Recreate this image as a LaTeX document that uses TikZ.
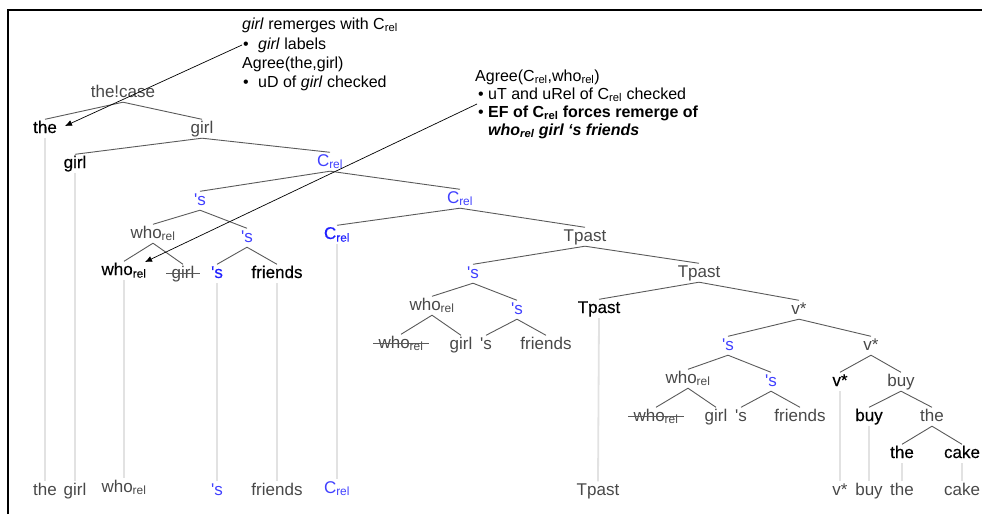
\documentclass[tikz,border=0pt]{standalone}
\usepackage{fontspec}
\setmainfont{Liberation Sans}
\newfontfamily\leaffont[FakeBold=0.3]{Liberation Sans}
\usetikzlibrary{arrows.meta}
\definecolor{tgray}{HTML}{484848}
\definecolor{lgray}{HTML}{E2E2E2}
\definecolor{tblue}{HTML}{4040FF}
\definecolor{lblue}{HTML}{2020FF}
\definecolor{egray}{HTML}{5A5A5A}
\begin{document}
\begin{tikzpicture}[x=1pt,y=-1pt,
  n/.style={inner sep=0pt, inner xsep=1pt, inner ysep=0.5pt, text height=13pt, text depth=4.5pt, anchor=base, font=\fontsize{17}{20}\selectfont, text=tgray},
  lf/.style={n, text=black, font=\fontsize{17}{20}\leaffont},
  bl/.style={n, text=tblue},
  blf/.style={lf, text=lblue},
  brline/.style={draw=egray, line width=0.9pt},
  trline/.style={draw=lgray, line width=1.8pt},
  strk/.style={draw=egray, line width=1pt},
  ann/.style={anchor=base west, inner sep=0pt, font=\fontsize{16}{19}\selectfont},
  arr/.style={draw=black, line width=0.7pt, -{Latex[length=7pt,width=6pt]}}
]
\useasboundingbox (0,0) rectangle (982,514);
\draw[line width=1.5pt] (8,514) -- (8,10) -- (982,10);

% tree nodes
\node[n] (thecase) at (123,97) {the!case};
\node[lf] (the1) at (45,133) {the};
\node[n] (girl1) at (202,133) {girl};
\node[lf] (girl2) at (75,168) {girl};
\node[bl] (crel1) at (330,166) {C\textsubscript{rel}};
\node[bl] (s1) at (200,205) {\textquotesingle s};
\node[bl] (crel2) at (460,203) {C\textsubscript{rel}};
\node[n] (whorel1) at (153,238) {who\textsubscript{rel}};
\node[bl] (s2) at (247,242) {\textquotesingle s};
\node[blf] (crel3) at (337,239) {C\textsubscript{rel}};
\node[n] (tpast1) at (585,241) {Tpast};
\node[lf] (whorel2) at (124,275) {who\textsubscript{rel}};
\node[n] (girl3) at (183,278) {girl};
\node[blf] (s3) at (217,278) {\textquotesingle s};
\node[lf] (friends1) at (277,278) {friends};
\node[bl] (s4) at (473,278) {\textquotesingle s};
\node[n] (tpast2) at (699,277) {Tpast};
\node[n] (whorel3) at (432,310) {who\textsubscript{rel}};
\node[bl] (s5) at (517,314) {\textquotesingle s};
\node[lf] (tpast3) at (599,313) {Tpast};
\node[n] (vstar1) at (799,314) {v*};
\node[n] (whorel4) at (401,348) {who\textsubscript{rel}};
\node[n] (girl4) at (461,349) {girl};
\node[n] (s6) at (486,349) {\textquotesingle s};
\node[n] (friends2) at (546,349) {friends};
\node[bl] (s7) at (728,350) {\textquotesingle s};
\node[n] (vstar2) at (871,350) {v*};
\node[n] (whorel5) at (688,383) {who\textsubscript{rel}};
\node[bl] (s8) at (771,386) {\textquotesingle s};
\node[lf] (vstar3) at (840,386) {v*};
\node[n] (buy1) at (901,386) {buy};
\node[n] (whorel6) at (656,421) {who\textsubscript{rel}};
\node[n] (girl5) at (716,421) {girl};
\node[n] (s9) at (741,421) {\textquotesingle s};
\node[n] (friends3) at (800,421) {friends};
\node[lf] (buy2) at (869,421) {buy};
\node[n] (the2) at (932,421) {the};
\node[lf] (the3) at (902,458) {the};
\node[lf] (cake1) at (962,458) {cake};

% bottom row
\node[n] (bthe) at (45,495) {the};
\node[n] (bgirl) at (75,495) {girl};
\node[n] (bwho) at (124,492) {who\textsubscript{rel}};
\node[bl] (bs) at (217,495) {\textquotesingle s};
\node[n] (bfriends) at (277,495) {friends};
\node[bl] (bcrel) at (337,493) {C\textsubscript{rel}};
\node[n] (btpast) at (598,495) {Tpast};
\node[n] (bv) at (840,495) {v*};
\node[n] (bbuy) at (869,495) {buy};
\node[n] (bthe2) at (902,495) {the};
\node[n] (bcake) at (962,495) {cake};

% branches
\foreach \p/\c in {thecase/the1, thecase/girl1, girl1/girl2, girl1/crel1,
  crel1/s1, crel1/crel2, s1/whorel1, s1/s2, whorel1/whorel2, whorel1/girl3,
  s2/s3, s2/friends1, crel2/crel3, crel2/tpast1, tpast1/s4, tpast1/tpast2,
  s4/whorel3, s4/s5, whorel3/whorel4, whorel3/girl4, s5/s6, s5/friends2,
  tpast2/tpast3, tpast2/vstar1, vstar1/s7, vstar1/vstar2, s7/whorel5, s7/s8,
  whorel5/whorel6, whorel5/girl5, s8/s9, s8/friends3, vstar2/vstar3, vstar2/buy1,
  buy1/buy2, buy1/the2, the2/the3, the2/cake1}
  \draw[brline] (\p.south) -- (\c.north);

% traces
\foreach \a/\b in {the1/bthe, girl2/bgirl, whorel2/bwho, s3/bs, friends1/bfriends,
  crel3/bcrel, tpast3/btpast, vstar3/bv, buy2/bbuy, the3/bthe2, cake1/bcake}
  \draw[trline] (\a.south) -- (\b.north);

% strike-outs
\foreach \s in {girl3, whorel4, whorel6}
  \draw[strk, shorten <=-4pt, shorten >=-4pt] ([yshift=5pt]\s.base west) -- ([yshift=5pt]\s.base east);

% annotations
\node[ann] (a1l1) at (242,29) {\textit{girl} remerges with C\textsubscript{rel}};
\node[ann] (a1b1) at (243,49) {•};
\node[ann] (a1l2) at (258,49) {\textit{girl} labels};
\node[ann] (a1l3) at (242,68) {Agree(the,girl)};
\node[ann] (a1b2) at (243,87) {•};
\node[ann] (a1l4) at (258,87) {uD of \textit{girl} checked};

\node[ann] (a2l1) at (475,81) {Agree(C\textsubscript{rel},who\textsubscript{rel})};
\node[ann] (a2b1) at (478,99) {•};
\node[ann] (a2l2) at (488,99) {uT and uRel of C\textsubscript{rel} checked};
\node[ann] (a2b2) at (478,117) {•};
\node[ann] (a2l3) at (488,117) {\textbf{EF of C\textsubscript{rel} forces remerge of}};
\node[ann] (a2l4) at (488,135) {\textbf{\textit{who\textsubscript{rel} girl ‘s friends}}};

% arrows
\coordinate (a1s) at (242,45);
\coordinate (a1e) at (65,126);
\coordinate (a2s) at (477,104);
\coordinate (a2e) at (145,262);
\draw[arr] (a1s) -- (a1e);
\draw[arr] (a2s) -- (a2e);
\end{tikzpicture}
\end{document}
